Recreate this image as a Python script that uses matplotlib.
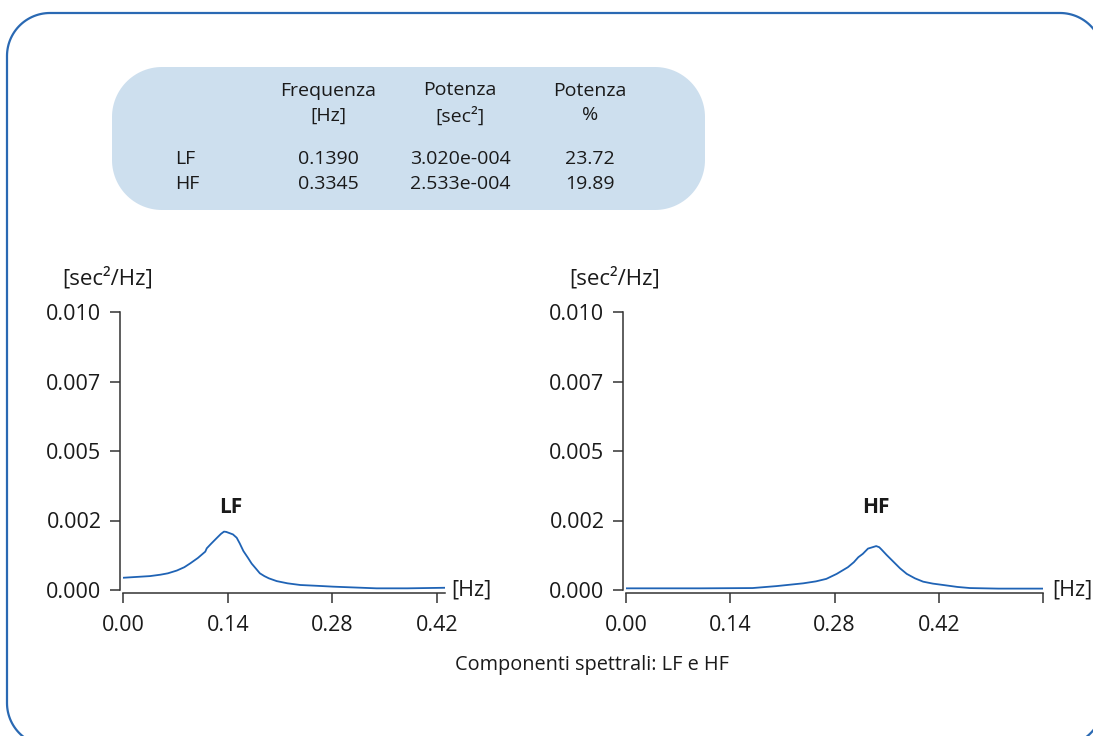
import matplotlib.pyplot as plt
import numpy as np
from matplotlib.patches import FancyBboxPatch, PathPatch
from matplotlib.path import Path

plt.rcParams['font.family'] = ['Open Sans', 'DejaVu Sans']

# spettro LF (frequenza [Hz], potenza [sec^2/Hz])
lf_freq = [0.000, 0.012, 0.036, 0.050, 0.060, 0.072, 0.082, 0.090, 0.100, 0.110,
           0.112, 0.118, 0.125, 0.131, 0.135, 0.138, 0.142, 0.147, 0.152, 0.156,
           0.161, 0.167, 0.172, 0.178, 0.183, 0.189, 0.195, 0.2055, 0.220, 0.237,
           0.260, 0.281, 0.310, 0.339, 0.380, 0.430]
lf_psd = [0.00044, 0.00046, 0.00050, 0.00055, 0.00060, 0.00070, 0.00082, 0.00096,
          0.00115, 0.00138, 0.00150, 0.00167, 0.00186, 0.00202, 0.00210, 0.00209,
          0.00205, 0.00200, 0.00188, 0.00168, 0.00140, 0.00116, 0.00095, 0.00076,
          0.00060, 0.00050, 0.00042, 0.00032, 0.00024, 0.00018, 0.00015, 0.00012,
          0.00009, 0.00006, 0.00006, 0.00008]

# spettro HF
hf_freq = [0.000, 0.100, 0.170, 0.202, 0.238, 0.255, 0.269, 0.283, 0.298, 0.306,
           0.312, 0.318, 0.325, 0.330, 0.336, 0.340, 0.343, 0.350, 0.359, 0.368,
           0.377, 0.388, 0.399, 0.412, 0.426, 0.445, 0.462, 0.500, 0.560]
hf_psd = [0.00006, 0.00006, 0.00007, 0.00014, 0.00024, 0.00031, 0.00040, 0.00058,
          0.00082, 0.00100, 0.00118, 0.00130, 0.00149, 0.00153, 0.00158, 0.00154,
          0.00146, 0.00126, 0.00102, 0.00078, 0.00058, 0.00042, 0.00030, 0.00023,
          0.00018, 0.00011, 0.00007, 0.00005, 0.00005]

# tabella riassuntiva
col_headers = ['Frequenza\n[Hz]', 'Potenza\n[sec²]', 'Potenza\n%']
row_names = ['LF', 'HF']
freq_vals = ['0.1390', '0.3345']
pow_vals = ['3.020e-004', '2.533e-004']
perc_vals = ['23.72', '19.89']

y_ticks = [0, 0.0025, 0.005, 0.0075, 0.01]
y_ticklabels = ['0.000', '0.002', '0.005', '0.007', '0.010']

W, H = 1093, 736
fig = plt.figure(figsize=(W / 100, H / 100), dpi=100)

# livello di sfondo in coordinate pixel
bg = fig.add_axes([0, 0, 1, 1], zorder=0)
bg.set_xlim(0, W)
bg.set_ylim(0, H)
bg.axis('off')


def rounded_rect(x0, y0, x1, y1, r, n=30):
    # contorno arrotondato (coordinate pixel, y verso l'alto)
    pts = []
    corners = [(x1 - r, y1 - r, 0), (x0 + r, y1 - r, 90),
               (x0 + r, y0 + r, 180), (x1 - r, y0 + r, 270)]
    for cx, cy, a0 in corners:
        t = np.radians(np.linspace(a0, a0 + 90, n))
        pts += list(zip(cx + r * np.cos(t), cy + r * np.sin(t)))
    pts.append(pts[0])
    return Path(pts)


frame_col = '#2a69b3'
bg.add_patch(PathPatch(rounded_rect(7, H - 746, 1103, H - 13, 43),
                       fc='none', ec=frame_col, lw=1.6, clip_on=False))
bg.add_patch(PathPatch(rounded_rect(112, H - 210, 705, H - 67, 50),
                       fc='#cddfee', ec='none'))

col_x = [328, 460, 590]
for x, head in zip(col_x, col_headers):
    bg.text(x, H - 103, head, ha='center', va='center', fontsize=14,
            linespacing=1.5, color='#1a1a1a')
for i, name in enumerate(row_names):
    y = H - 159 - i * 25
    bg.text(175, y, name, ha='left', va='center', fontsize=14, color='#1a1a1a')
    for x, v in zip(col_x, [freq_vals[i], pow_vals[i], perc_vals[i]]):
        bg.text(x, y, v, ha='center', va='center', fontsize=14, color='#1a1a1a')

bg.text(592, H - 665, 'Componenti spettrali: LF e HF', ha='center', va='center',
        fontsize=14.3, color='#1a1a1a')

line_col = '#1f63b5'
spine_col = '#333333'


def style_axes(ax, xticks, xlabels):
    for s in ['top', 'right']:
        ax.spines[s].set_visible(False)
    for s in ['left', 'bottom']:
        ax.spines[s].set_position(('outward', 2.5))
        ax.spines[s].set_color(spine_col)
        ax.spines[s].set_linewidth(1.1)
    ax.set_ylim(0, 0.01)
    ax.set_yticks(y_ticks)
    ax.set_yticklabels(y_ticklabels)
    ax.set_xticks(xticks)
    ax.set_xticklabels(xlabels)
    ax.tick_params(axis='y', length=7, width=1.1, color=spine_col, pad=6,
                   labelsize=15.5, labelcolor='#1a1a1a')
    ax.tick_params(axis='x', length=7.5, width=1.1, color=spine_col, pad=8,
                   labelsize=15.5, labelcolor='#1a1a1a')
    ax.patch.set_alpha(0)


ax1 = fig.add_axes([123 / W, (H - 590) / H, 322 / W, 278 / H], zorder=2)
ax1.plot(lf_freq, lf_psd, color=line_col, lw=1.3)
ax1.set_xlim(0, 0.4305)
style_axes(ax1, [0, 0.14, 0.28, 0.42], ['0.00', '0.14', '0.28', '0.42'])
ax1.text(0.1444, 0.00295, 'LF', ha='center', va='center', fontsize=15,
         fontweight='bold', color='#1a1a1a')
ax1.text(1.02, 0.0, '[Hz]', transform=ax1.transAxes, ha='left', va='center',
         fontsize=15.5, color='#1a1a1a')
ax1.text(-0.19, 1.12, '[sec²/Hz]', transform=ax1.transAxes, ha='left',
         va='center', fontsize=16, color='#1a1a1a')

ax2 = fig.add_axes([626 / W, (H - 590) / H, 417 / W, 278 / H], zorder=2)
ax2.plot(hf_freq, hf_psd, color=line_col, lw=1.3)
ax2.set_xlim(0, 0.56)
style_axes(ax2, [0, 0.14, 0.28, 0.42, 0.56], ['0.00', '0.14', '0.28', '0.42', ''])
ax2.text(0.3356, 0.00295, 'HF', ha='center', va='center', fontsize=15,
         fontweight='bold', color='#1a1a1a')
ax2.text(1.022, 0.0, '[Hz]', transform=ax2.transAxes, ha='left', va='center',
         fontsize=15.5, color='#1a1a1a')
ax2.text(-0.135, 1.12, '[sec²/Hz]', transform=ax2.transAxes, ha='left',
         va='center', fontsize=16, color='#1a1a1a')

fig.savefig('out.png', dpi=100)
